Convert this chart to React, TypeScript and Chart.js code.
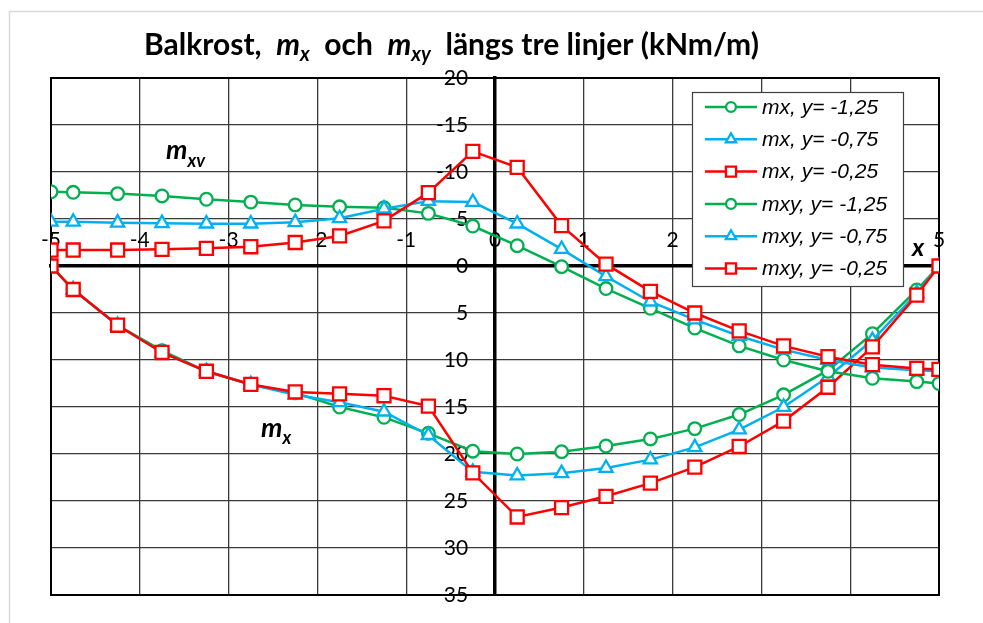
import React, { useEffect, useRef } from 'react';
import { Chart, registerables } from 'chart.js';

Chart.register(...registerables);

// ---- data ----
const xValues = [-5, -4.75, -4.25, -3.75, -3.25, -2.75, -2.25, -1.75, -1.25, -0.75, -0.25, 0.25, 0.75, 1.25, 1.75, 2.25, 2.75, 3.25, 3.75, 4.25, 4.75, 5];

const mxY125 = [0, 2.5, 6.3, 9.0, 11.2, 12.6, 13.5, 15.0, 16.1, 17.8, 19.7, 20.0, 19.75, 19.15, 18.4, 17.3, 15.8, 13.7, 11.1, 7.2, 2.55, 0];
const mxY075 = [0, 2.5, 6.3, 9.2, 11.2, 12.6, 13.7, 14.5, 15.5, 18.0, 21.9, 22.3, 22.05, 21.5, 20.6, 19.3, 17.4, 15.0, 11.8, 7.9, 2.9, 0];
const mxY025 = [0, 2.5, 6.3, 9.2, 11.2, 12.6, 13.4, 13.6, 13.8, 14.9, 22.0, 26.7, 25.7, 24.5, 23.1, 21.4, 19.2, 16.5, 12.9, 8.6, 3.1, 0];

const mxyY125 = [-7.9, -7.84, -7.7, -7.45, -7.1, -6.8, -6.5, -6.3, -6.2, -5.6, -4.25, -2.16, 0.07, 2.4, 4.5, 6.6, 8.5, 10.0, 11.2, 11.95, 12.3, 12.5];
const mxyY075 = [-4.7, -4.7, -4.6, -4.55, -4.5, -4.5, -4.65, -5.07, -6.1, -6.9, -6.8, -4.5, -1.8, 1.1, 3.8, 5.7, 7.45, 8.9, 10.0, 10.8, 11.1, 11.2];
const mxyY025 = [-1.7, -1.7, -1.7, -1.77, -1.88, -2.05, -2.5, -3.2, -4.8, -7.8, -12.2, -10.5, -4.3, -0.2, 2.7, 5.0, 6.9, 8.5, 9.65, 10.5, 10.9, 11.0];

const seriesLabels = ['mx, y= -1,25', 'mx, y= -0,75', 'mx, y= -0,25', 'mxy, y= -1,25', 'mxy, y= -0,75', 'mxy, y= -0,25'];
const seriesValues = [mxY125, mxY075, mxY025, mxyY125, mxyY075, mxyY025];

const xMin = -5;
const xMax = 5;
const yMin = -20;
const yMax = 35;
const yStep = 5;
const xStep = 1;

const GREEN = '#00B050';
const BLUE = '#00B0F0';
const RED = '#FF0000';
const seriesColors = [GREEN, BLUE, RED, GREEN, BLUE, RED];
const seriesShapes = ['circle', 'triangle', 'rect', 'circle', 'triangle', 'rect'];
const shapeRadius: Record<string, number> = { circle: 6.3, triangle: 7.6, rect: 9.2 };

type Seg = { text: string; font: string; dy?: number };

function drawRich(ctx: CanvasRenderingContext2D, segs: Seg[], x: number, y: number) {
  let cx = x;
  ctx.textBaseline = 'alphabetic';
  ctx.textAlign = 'left';
  for (const s of segs) {
    ctx.font = s.font;
    ctx.fillText(s.text, cx, y + (s.dy || 0));
    cx += ctx.measureText(s.text).width;
  }
}

function drawMarker(ctx: CanvasRenderingContext2D, shape: string, x: number, y: number, r: number, color: string) {
  ctx.save();
  ctx.strokeStyle = color;
  ctx.fillStyle = '#fff';
  ctx.lineWidth = 2.3;
  ctx.beginPath();
  if (shape === 'circle') {
    ctx.arc(x, y, r, 0, Math.PI * 2);
  } else if (shape === 'triangle') {
    for (let k = 0; k < 3; k++) {
      const a = (k * 2 * Math.PI) / 3;
      const px = x + Math.sin(a) * r;
      const py = y - Math.cos(a) * r;
      if (k === 0) ctx.moveTo(px, py);
      else ctx.lineTo(px, py);
    }
    ctx.closePath();
  } else {
    const s = r / Math.SQRT2;
    ctx.rect(x - s, y - s, 2 * s, 2 * s);
  }
  ctx.fill();
  ctx.stroke();
  ctx.restore();
}

const decorPlugin = {
  id: 'decor',
  beforeDraw(chart: any) {
    const ctx: CanvasRenderingContext2D = chart.ctx;
    ctx.save();
    ctx.fillStyle = '#fff';
    ctx.fillRect(0, 0, chart.width, chart.height);
    ctx.strokeStyle = '#d9d9d9';
    ctx.lineWidth = 1.5;
    ctx.strokeRect(9.5, 11.5, chart.width + 20, chart.height + 20);
    ctx.restore();
  },
  beforeDatasetsDraw(chart: any) {
    const ctx: CanvasRenderingContext2D = chart.ctx;
    const a = chart.chartArea;
    ctx.save();
    ctx.strokeStyle = '#000';
    ctx.lineWidth = 2;
    ctx.strokeRect(a.left, a.top, a.right - a.left, a.bottom - a.top);
    ctx.restore();
  },
  afterDraw(chart: any) {
    const ctx: CanvasRenderingContext2D = chart.ctx;
    ctx.save();
    ctx.fillStyle = '#000';
    // title
    const B = 'bold 30px Lato';
    const BI = 'italic bold 30px Lato';
    const SUB = 'italic bold 20px Lato';
    drawRich(ctx, [
      { text: 'Balkrost,  ', font: B },
      { text: 'm', font: BI },
      { text: 'x', font: SUB, dy: 6 },
      { text: '  och  ', font: B },
      { text: 'm', font: BI },
      { text: 'xy', font: SUB, dy: 6 },
      { text: '  längs tre linjer (kNm/m)', font: B },
    ], 144, 55);

    // annotations
    drawRich(ctx, [
      { text: 'm', font: 'italic bold 27px Lato' },
      { text: 'xv', font: 'italic bold 18px Lato', dy: 8 },
    ], 166, 159);
    drawRich(ctx, [
      { text: 'm', font: 'italic bold 27px Lato' },
      { text: 'x', font: 'italic bold 18px Lato', dy: 7 },
    ], 261, 437);
    drawRich(ctx, [{ text: 'x', font: 'italic bold 25px Lato' }], 912, 256);

    // legend
    const lx = 692, ly = 92, lw = 211, lh = 194;
    ctx.fillStyle = '#fff';
    ctx.fillRect(lx, ly, lw, lh);
    ctx.strokeStyle = '#404040';
    ctx.lineWidth = 1.2;
    ctx.strokeRect(lx + 0.5, ly + 0.5, lw, lh);
    seriesLabels.forEach((label, i) => {
      const cy = 107 + i * 32.3;
      const color = seriesColors[i];
      ctx.strokeStyle = color;
      ctx.lineWidth = 2.5;
      ctx.beginPath();
      ctx.moveTo(705, cy);
      ctx.lineTo(757, cy);
      ctx.stroke();
      drawMarker(ctx, seriesShapes[i], 731, cy, shapeRadius[seriesShapes[i]] * 0.78, color);
      ctx.fillStyle = '#000';
      ctx.font = 'italic 21px "Liberation Sans"';
      ctx.textAlign = 'left';
      ctx.textBaseline = 'middle';
      ctx.fillText(label, 762, cy + 1);
    });
    ctx.restore();
  },
};

export default function App() {
  const ref = useRef<HTMLCanvasElement>(null);
  useEffect(() => {
    const canvas = ref.current!;
    const datasets = seriesValues.map((vals, i) => ({
      label: seriesLabels[i],
      data: xValues.map((x, j) => ({ x, y: vals[j] })),
      borderColor: seriesColors[i],
      backgroundColor: '#ffffff',
      pointBorderColor: seriesColors[i],
      pointBackgroundColor: '#ffffff',
      borderWidth: 2.5,
      pointBorderWidth: 2.3,
      pointStyle: seriesShapes[i],
      pointRadius: shapeRadius[seriesShapes[i]],
      tension: 0,
      showLine: true,
      order: 6 - i,
    }));
    const chart = new Chart(canvas, {
      type: 'scatter',
      data: { datasets },
      options: {
        responsive: false,
        animation: false,
        events: [],
        layout: { padding: { left: 51, top: 78, right: 44, bottom: 28 } },
        plugins: {
          legend: { display: false },
          title: { display: false },
          tooltip: { enabled: false },
        },
        scales: {
          x: {
            type: 'linear',
            min: xMin,
            max: xMax,
            position: { y: 0 },
            ticks: {
              stepSize: xStep,
              autoSkip: false,
              maxRotation: 0,
              padding: -38,
              color: '#000',
              font: { family: 'Lato', size: 21 },
            },
            grid: { color: '#3a3a3a', lineWidth: 1.3, drawTicks: false },
            border: { display: true, color: '#000', width: 3.5 },
          },
          y: {
            type: 'linear',
            min: yMin,
            max: yMax,
            reverse: true,
            position: { x: 0 },
            ticks: {
              stepSize: yStep,
              autoSkip: false,
              color: '#000',
              font: { family: 'Lato', size: 21 },
              callback: (v: any) => String(v) + '     ',
            },
            grid: { color: '#3a3a3a', lineWidth: 1.3, drawTicks: false },
            border: { display: true, color: '#000', width: 3.5 },
          },
        },
      } as any,
      plugins: [decorPlugin],
    });
    return () => chart.destroy();
  }, []);
  return (
    <div style={{ position: 'fixed', left: 0, top: 0, width: 983, height: 623 }}>
      <canvas ref={ref} width={983} height={623} style={{ display: 'block' }} />
    </div>
  );
}
